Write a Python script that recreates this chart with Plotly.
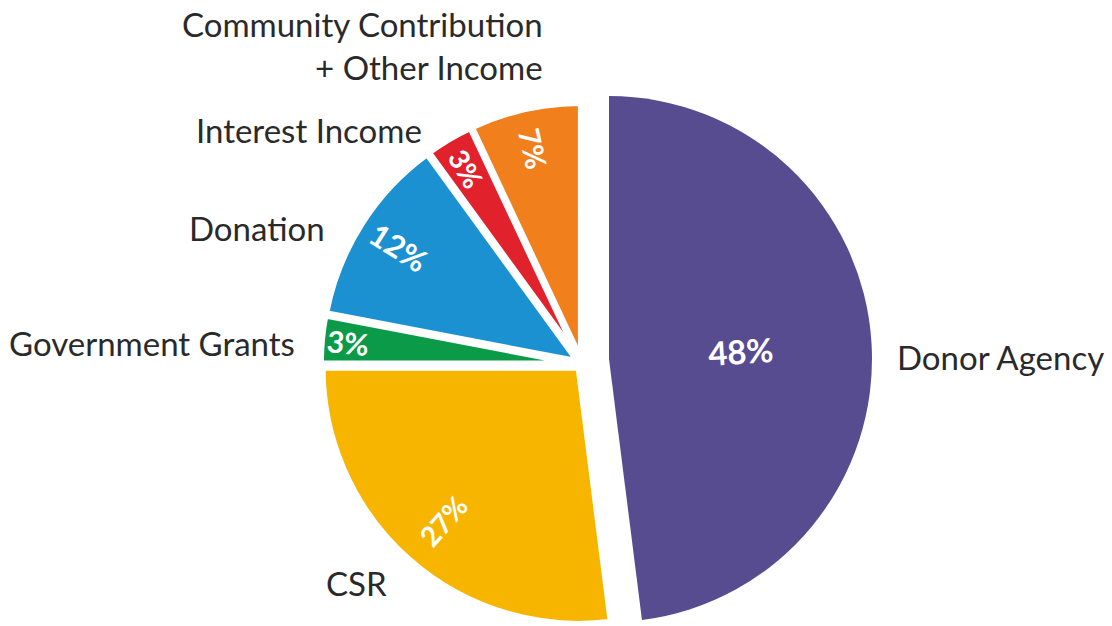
import math
import plotly.graph_objects as go

# Income sources, clockwise from 12 o'clock
categories = ["Donor Agency", "CSR", "Government Grants", "Donation",
              "Interest Income", "Community Contribution<br>+ Other Income"]
shares = [48, 27, 3, 12, 3, 7]
colors = ["#584c91", "#f7b500", "#0b9a48", "#1b91d2", "#e1212b", "#f07f1c"]

W, H = 1112, 626
FONT = "Lato"
INK = "#2a2a2a"

# Lead slice is drawn on its own, offset from the rest of the pie
lead_center, lead_r = (609, 359), 263
rest_center, rest_r, rest_pull = (582, 364), 256, 0.02

# Percentage labels: distance from the apex (fraction of radius) and size
pct_radius = [0.5, 0.8, 0.9, 0.83, 0.87, 0.84]
pct_size = [33, 28, 30, 31, 28, 29]

blank = "rgba(0,0,0,0)"
total = sum(shares)


def domain(center, half):
    cx, cy = center
    return dict(x=[(cx - half) / W, (cx + half) / W],
                y=[(H - (cy + half)) / H, (H - (cy - half)) / H])


lead_vals = [shares[0], total - shares[0]]
rest_vals = [shares[0]] + shares[1:]

fig = go.Figure()
fig.add_trace(go.Pie(
    values=lead_vals, sort=False, direction="clockwise", rotation=0,
    marker=dict(colors=[colors[0], blank], line=dict(color="white", width=0)),
    textinfo="none",
    domain=domain(lead_center, lead_r), showlegend=False, hoverinfo="skip",
))
fig.add_trace(go.Pie(
    values=rest_vals, sort=False, direction="clockwise", rotation=0,
    pull=[0] + [rest_pull] * (len(shares) - 1),
    marker=dict(colors=[blank] + colors[1:],
                line=dict(color=[blank] + ["white"] * (len(shares) - 1), width=6)),
    textinfo="none",
    domain=domain(rest_center, rest_r * (1 + rest_pull)), showlegend=False,
    hoverinfo="skip",
))

# Category names set just outside each slice along its mid-angle,
# percentages set inside each slice along its radius
label_dist = 292
nudges = {0: (-5, 16), 2: (6, 6), 3: (-8, 20), 4: (-9, 17), 5: (27, -34)}
annotations = []
start = 0.0
for i, (name, v) in enumerate(zip(categories, shares)):
    mid_deg = (start + v / 2) / total * 360
    start += v
    mid = math.radians(mid_deg)
    if i == 0:
        (cx, cy), r, off = lead_center, lead_r, 0
    else:
        (cx, cy), r, off = rest_center, rest_r, rest_pull * rest_r
    dx, dy = math.sin(mid), -math.cos(mid)

    px, py = cx + label_dist * dx, cy + label_dist * dy
    nx, ny = nudges.get(i, (0, 0))
    px, py = px + nx, py + ny
    annotations.append(dict(
        x=px / W, y=1 - py / H, xref="paper", yref="paper",
        text=name, showarrow=False,
        xanchor="left" if dx > 0 else "right", yanchor="middle",
        align="left" if dx > 0 else "right",
        font=dict(family=FONT, size=33, color=INK),
    ))

    tr = off + pct_radius[i] * r
    tx, ty = cx + tr * dx, cy + tr * dy
    angle = mid_deg - 90 if dx > 0 else mid_deg - 270
    annotations.append(dict(
        x=tx / W, y=1 - ty / H, xref="paper", yref="paper",
        text=f"<b>{v}%</b>", showarrow=False, textangle=angle,
        xanchor="center", yanchor="middle",
        font=dict(family=FONT, size=pct_size[i], color="white"),
    ))

fig.update_layout(
    width=W, height=H, margin=dict(l=0, r=0, t=0, b=0),
    paper_bgcolor="white", plot_bgcolor="white",
    annotations=annotations,
)
fig.write_html("out.html")
